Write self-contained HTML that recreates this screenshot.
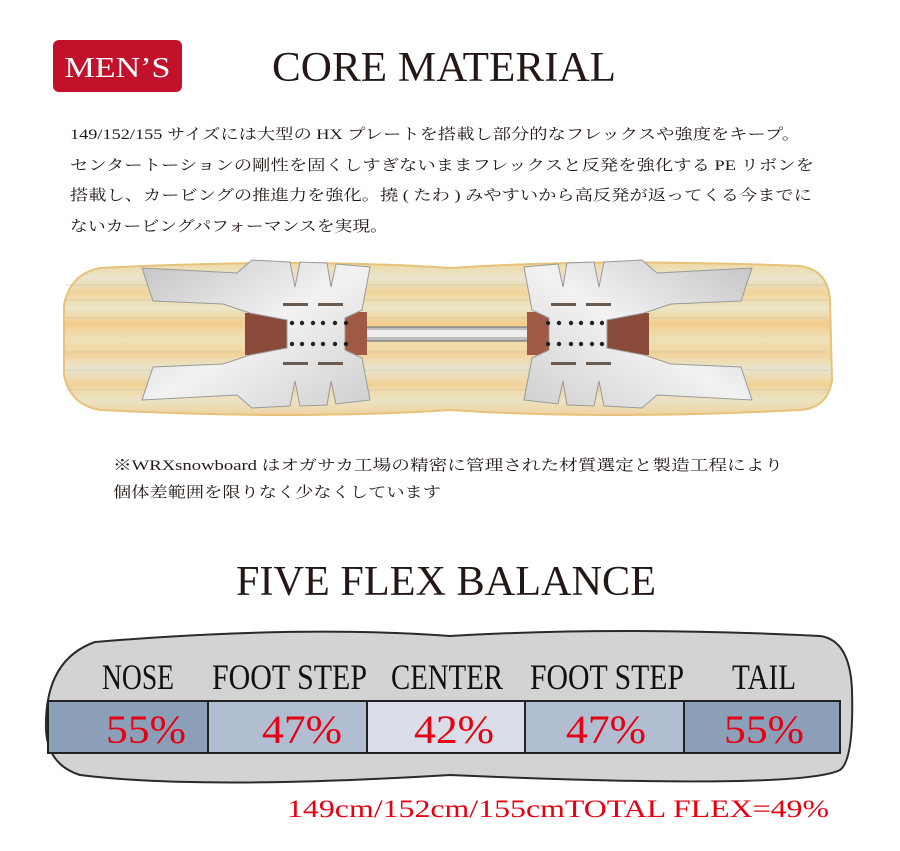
<!DOCTYPE html>
<html><head><meta charset="utf-8"><style>
html,body{margin:0;padding:0;background:#fff;}
svg{display:block}
</style></head><body>
<svg width="900" height="851" viewBox="0 0 900 851" xmlns="http://www.w3.org/2000/svg">
<defs>
<linearGradient id="wood" x1="0" y1="0" x2="0" y2="1">
<stop offset="0" stop-color="#f0d9a4"/><stop offset="0.1" stop-color="#e9e4cc"/><stop offset="0.2" stop-color="#f1d59a"/>
<stop offset="0.3" stop-color="#ece6c8"/><stop offset="0.4" stop-color="#f3cc8d"/><stop offset="0.5" stop-color="#eee0b8"/>
<stop offset="0.6" stop-color="#f3d49b"/><stop offset="0.7" stop-color="#e8e6d2"/><stop offset="0.8" stop-color="#f1d297"/>
<stop offset="0.9" stop-color="#ece3c4"/><stop offset="1" stop-color="#eed3a0"/>
</linearGradient>
<linearGradient id="metal" x1="0" y1="0" x2="1" y2="1">
<stop offset="0" stop-color="#c4c4c4"/><stop offset="0.5" stop-color="#f2f2f2"/><stop offset="1" stop-color="#cfcfcf"/>
</linearGradient>
<g id="bind">
<rect x="245" y="313" width="42" height="42" fill="#8a4a3a"/>
<rect x="343" y="312" width="24" height="43" fill="#a05a44"/>
<path d="M142,268 L237,273 L252,260 L290,262 L295,287 L300,262 L327,263 L331,287 L336,264 L370,267 L362,310 L345,318 L345,350 L362,358 L370,400 L336,404 L331,381 L327,405 L300,406 L295,381 L290,406 L252,408 L237,395 L142,400 L153,367 L223,364 L250,355 L287,348 L287,320 L250,313 L223,304 L153,301 Z" fill="url(#metal)" stroke="#9a9a9a" stroke-width="1"/>
<g fill="#222">
<circle cx="292" cy="323" r="2.2"/><circle cx="302" cy="323" r="2.2"/><circle cx="313" cy="323" r="2.2"/><circle cx="323" cy="323" r="2.2"/><circle cx="335" cy="323" r="2.2"/><circle cx="346" cy="323" r="2.2"/>
<circle cx="292" cy="344" r="2.2"/><circle cx="302" cy="344" r="2.2"/><circle cx="313" cy="344" r="2.2"/><circle cx="323" cy="344" r="2.2"/><circle cx="335" cy="344" r="2.2"/><circle cx="346" cy="344" r="2.2"/>
</g>
<g fill="#6a5a50">
<rect x="283" y="303" width="25" height="3"/><rect x="318" y="303" width="25" height="3"/>
<rect x="283" y="362" width="25" height="3"/><rect x="318" y="362" width="25" height="3"/>
</g>
</g>
</defs>

<rect x="53" y="40" width="129" height="52" rx="6" fill="#c1112b"/>
<text x="117.5" y="77" text-anchor="middle" font-family="Liberation Serif, serif" font-size="28" fill="#fff" textLength="106" lengthAdjust="spacingAndGlyphs">MEN’S</text>
<text x="444" y="81" text-anchor="middle" font-family="Liberation Serif, serif" font-size="42" fill="#231815" textLength="344" lengthAdjust="spacingAndGlyphs">CORE MATERIAL</text>

<g font-family="Liberation Serif, 'Noto Serif CJK SC', serif" font-size="15" fill="#231815">
<text x="70" y="139" textLength="730" lengthAdjust="spacingAndGlyphs">149/152/155 サイズには大型の HX プレートを搭載し部分的なフレックスや強度をキープ。</text>
<text x="70" y="170" textLength="744" lengthAdjust="spacingAndGlyphs">センタートーションの剛性を固くしすぎないままフレックスと反発を強化する PE リボンを</text>
<text x="70" y="200" textLength="742" lengthAdjust="spacingAndGlyphs">搭載し、カービングの推進力を強化。撓 ( たわ ) みやすいから高反発が返ってくる今までに</text>
<text x="70" y="231" textLength="318" lengthAdjust="spacingAndGlyphs">ないカービングパフォーマンスを実現。</text>
<text x="113" y="470" textLength="670" lengthAdjust="spacingAndGlyphs">※WRXsnowboard はオガサカ工場の精密に管理された材質選定と製造工程により</text>
<text x="113" y="497" textLength="328" lengthAdjust="spacingAndGlyphs">個体差範囲を限りなく少なくしています</text>
</g>

<!-- core board -->
<path d="M100 268 Q300 258 450 268 Q600 258 800 266 Q828 270 830 300 L832 380 Q828 408 800 410 Q600 420 450 410 Q300 420 100 410 Q70 405 64 375 L64 305 Q70 274 100 268 Z" fill="url(#wood)" stroke="#e6c27a" stroke-width="2"/>
<g stroke="#c9c3a8" stroke-width="1" opacity="0.6">
<line x1="66" y1="285" x2="828" y2="285"/><line x1="66" y1="300" x2="828" y2="300"/><line x1="66" y1="318" x2="828" y2="318"/>
<line x1="66" y1="352" x2="828" y2="352"/><line x1="66" y1="370" x2="828" y2="370"/><line x1="66" y1="390" x2="828" y2="390"/>
</g>
<rect x="345" y="327" width="205" height="14" fill="#bfbfbf" stroke="#666" stroke-width="1"/>
<rect x="345" y="330" width="205" height="7" fill="#eeeeee"/>
<use href="#bind"/>
<use href="#bind" transform="translate(894,0) scale(-1,1)"/>

<text x="446" y="595" text-anchor="middle" font-family="Liberation Serif, serif" font-size="42" fill="#231815" textLength="420" lengthAdjust="spacingAndGlyphs">FIVE FLEX BALANCE</text>

<!-- grey board -->
<path d="M95 642 Q300 625 450 636 Q620 626 820 636 Q850 640 852 690 Q854 760 840 770 Q800 790 450 775 Q200 790 80 775 Q48 765 46 730 Q44 660 95 642 Z" fill="#d3d3d3" stroke="#2a2a2a" stroke-width="2"/>
<g font-family="Liberation Serif, serif" font-size="36" fill="#111">
<text x="102" y="689" textLength="72" lengthAdjust="spacingAndGlyphs">NOSE</text>
<text x="212" y="689" textLength="155" lengthAdjust="spacingAndGlyphs">FOOT STEP</text>
<text x="391" y="689" textLength="112" lengthAdjust="spacingAndGlyphs">CENTER</text>
<text x="530" y="689" textLength="154" lengthAdjust="spacingAndGlyphs">FOOT STEP</text>
<text x="732" y="689" textLength="64" lengthAdjust="spacingAndGlyphs">TAIL</text>
</g>
<g stroke="#222" stroke-width="2">
<rect x="48" y="701" width="160" height="52" fill="#8b9fb9"/>
<rect x="208" y="701" width="159" height="52" fill="#b1bdd0"/>
<rect x="367" y="701" width="158" height="52" fill="#d9dee8"/>
<rect x="525" y="701" width="159" height="52" fill="#b1bdd0"/>
<rect x="684" y="701" width="156" height="52" fill="#8b9fb9"/>
</g>
<g font-family="Liberation Serif, serif" font-size="40" fill="#e60012">
<text x="106" y="743" textLength="80" lengthAdjust="spacingAndGlyphs">55%</text>
<text x="262" y="743" textLength="80" lengthAdjust="spacingAndGlyphs">47%</text>
<text x="414" y="743" textLength="80" lengthAdjust="spacingAndGlyphs">42%</text>
<text x="566" y="743" textLength="80" lengthAdjust="spacingAndGlyphs">47%</text>
<text x="724" y="743" textLength="80" lengthAdjust="spacingAndGlyphs">55%</text>
</g>
<text x="287" y="817" font-family="Liberation Serif, serif" font-size="25" fill="#e60012" textLength="542" lengthAdjust="spacingAndGlyphs">149cm/152cm/155cmTOTAL FLEX=49%</text>
</svg>
</body></html>
